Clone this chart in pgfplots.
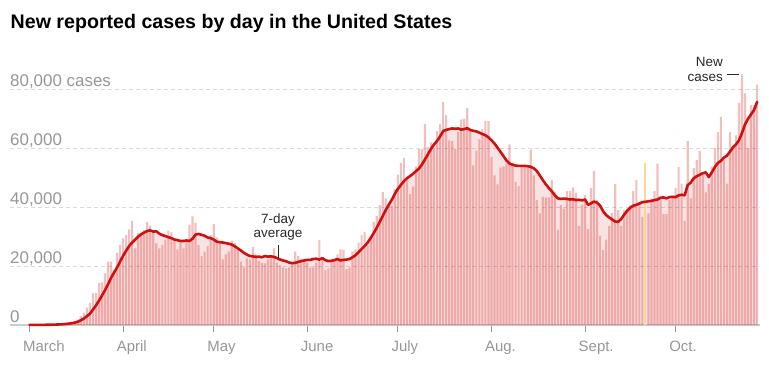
\documentclass[border=0pt]{standalone}
\usepackage{pgfplots}
\pgfplotsset{compat=1.18}
\usepackage{fontspec}
\setmainfont{Liberation Sans}
\definecolor{nytred}{RGB}{207,17,17}
\definecolor{linered}{RGB}{206,16,16}
\definecolor{ticklab}{RGB}{150,150,150}
\definecolor{gridc}{RGB}{218,218,218}
\definecolor{axisc}{RGB}{205,205,205}
\definecolor{yellowbar}{RGB}{253,213,150}
\definecolor{annot}{RGB}{40,40,40}
\begin{document}
\begin{tikzpicture}[x=1bp,y=1bp]
\useasboundingbox (0,0) rectangle (769,365);
\node[anchor=base west, inner sep=0pt, font=\fontsize{19.7}{22}\selectfont\bfseries, text=black] at (10.5,337) {New reported cases by day in the United States};
\begin{axis}[
  at={(10bp,40bp)}, anchor=south west,
  scale only axis, width=750bp, height=253.4bp,
  xmin=-6.46, xmax=241.96, ymin=0, ymax=86000,
  clip=false,
  axis x line*=bottom, axis y line*=left,
  x axis line style={draw=axisc, line width=1.5bp},
  y axis line style={draw=none},
  xtick={0,31,61,92,122,153,184,214},
  xticklabels={March,April,May,June,July,Aug.,Sept.,Oct.},
  ytick={0,20000,40000,60000,80000},
  yticklabels={0,{20,000},{40,000},{60,000},{80,000 cases}},
  scaled y ticks=false,
  tick align=outside, major tick length=7bp,
  xtick style={draw=ticklab, line width=0.9bp},
  ytick style={draw=none},
  minor tick num=0,
  xticklabel style={anchor=base west, inner sep=0pt, xshift=-6.5bp, yshift=-19.7bp, font=\fontsize{15}{15}\selectfont, text=ticklab},
  yticklabel style={anchor=base west, inner sep=0pt, xshift=7bp, yshift=3bp, font=\fontsize{17}{17}\selectfont, text=ticklab},
  ymajorgrids,
  grid style={draw=gridc, line width=0.9bp, dash pattern=on 4bp off 3bp},
  /pgf/number format/assume math mode=true,
]
% 7-day average area
\addplot[draw=none, fill=nytred, fill opacity=0.12] coordinates {
(0,20)(4,50)(8,110)(11,250)(13,450)(15,800)(16,1100)(17,1600)(18,2200)(19,3000)(20,3800)(21,5200)(22,6600)(23,8200)(24,10000)(25,11800)(26,13800)(27,16000)(28,17800)(29,19500)(30,21500)(31,23500)(32,25200)(33,26800)(34,28000)(35,29000)(36,30000)(37,30800)(38,31400)(39,31900)(40,32100)(41,31700)(42,31800)(43,31000)(44,30500)(45,30200)(46,29800)(47,29500)(48,29000)(49,28800)(50,28500)(51,28500)(52,28700)(53,28500)(54,29300)(55,30700)(56,30900)(57,30600)(58,30300)(59,29700)(60,29500)(61,29000)(62,28300)(63,28100)(64,28000)(65,27800)(66,27600)(67,27300)(68,26700)(69,26000)(70,25300)(71,24500)(72,23900)(73,23400)(74,23300)(75,23100)(76,23200)(77,23000)(78,23400)(79,23200)(80,23300)(81,23100)(82,22700)(83,22200)(84,21900)(85,21600)(86,21200)(87,21000)(88,21100)(89,21400)(90,21700)(91,21900)(92,22100)(93,22100)(94,22400)(95,22500)(96,22200)(97,22700)(98,22000)(99,21700)(100,21800)(101,22000)(102,22400)(103,21900)(104,22100)(105,22200)(106,22400)(107,23000)(108,23700)(109,24700)(110,25800)(111,26800)(112,28000)(113,29500)(114,31200)(115,33000)(116,35000)(117,37000)(118,39000)(119,40800)(120,42500)(121,44500)(122,46200)(123,47500)(124,48800)(125,49800)(126,50500)(127,51300)(128,52200)(129,53100)(130,54500)(131,56200)(132,58000)(133,59800)(134,61300)(135,62500)(136,64000)(137,65800)(138,66200)(139,66500)(140,66700)(141,66600)(142,66700)(143,66300)(144,66500)(145,66800)(146,66200)(147,65900)(148,65700)(149,65300)(150,64800)(151,64400)(152,63700)(153,62700)(154,61600)(155,60200)(156,58800)(157,57300)(158,55800)(159,54800)(160,54400)(161,54100)(162,54000)(163,54000)(164,54000)(165,53900)(166,53700)(167,53200)(168,52300)(169,50800)(170,49200)(171,47800)(172,46500)(173,45400)(174,44000)(175,43000)(176,42800)(177,42900)(178,42800)(179,42600)(180,42700)(181,42400)(182,42500)(183,42300)(184,42600)(185,40800)(186,41300)(187,41900)(188,41500)(189,40500)(190,38600)(191,37300)(192,36500)(193,35800)(194,35100)(195,35000)(196,36000)(197,37500)(198,38800)(199,39800)(200,40500)(201,40800)(202,41200)(203,41700)(204,41800)(205,42000)(206,42100)(207,42400)(208,42600)(209,43200)(210,43300)(211,43000)(212,43400)(213,43500)(214,43400)(215,44000)(216,44200)(217,44000)(218,47500)(219,48300)(220,49800)(221,50500)(222,51000)(223,51500)(224,51800)(225,50200)(226,51800)(227,53600)(228,55000)(229,55700)(230,56800)(231,57500)(232,58800)(233,60300)(234,61300)(235,62700)(236,65200)(237,68100)(238,70000)(239,71500)(240,73000)(241,75700)
} \closedcycle;
% daily new cases
\addplot[ybar, bar width=0.72, bar shift=0pt, draw=none, fill=nytred, fill opacity=0.27] coordinates {
(0,20)(1,30)(2,30)(3,50)(4,70)(5,80)(6,100)(7,120)(8,200)(9,300)(10,450)(11,500)(12,700)(13,750)(14,950)(15,1300)(16,1800)(17,3000)(18,4200)(19,5900)(20,7400)(21,10800)(22,10800)(23,14200)(24,14500)(25,17500)(26,21500)(27,21500)(28,18600)(29,24500)(30,27100)
(31,29400)(32,30500)(33,32400)(34,35400)(35,26000)(36,31300)(37,31000)(38,32200)(39,35000)(40,33700)(41,32200)(42,27700)(43,26000)(44,27100)(45,29000)(46,32000)(47,31500)(48,29000)(49,25700)(50,27900)(51,26000)(52,29000)(53,34100)(54,36900)(55,34700)(56,27100)(57,23400)(58,24900)(59,26800)(60,30500)
(61,34200)(62,29700)(63,28200)(64,22300)(65,24000)(66,24900)(67,28600)(68,27800)(69,25700)(70,21500)(71,19600)(72,22600)(73,22300)(74,26500)(75,24000)(76,21700)(77,21100)(78,20900)(79,22300)(80,23400)(81,26000)(82,21200)(83,20300)(84,19600)(85,19200)(86,19600)(87,21200)(88,24900)(89,23400)(90,22300)(91,21500)
(92,21200)(93,19600)(94,19600)(95,21200)(96,28800)(97,22000)(98,18600)(99,19200)(100,22000)(101,22500)(102,24000)(103,25700)(104,25500)(105,19000)(106,19500)(107,25000)(108,25700)(109,28000)(110,30500)(111,31600)(112,27000)(113,30200)(114,35000)(115,37000)(116,40700)(117,45200)(118,43000)(119,41500)(120,40500)(121,46000)
(122,51000)(123,55000)(124,56600)(125,49400)(126,44400)(127,47000)(128,53800)(129,59700)(130,59700)(131,68200)(132,60400)(133,62000)(134,60000)(135,65800)(136,68200)(137,75600)(138,71200)(139,62700)(140,62400)(141,59700)(142,65500)(143,69700)(144,70000)(145,73700)(146,66000)(147,54200)(148,59200)(149,63000)(150,66500)(151,69200)(152,69200)
(153,57000)(154,50800)(155,47700)(156,53400)(157,53800)(158,54800)(159,61300)(160,55000)(161,48600)(162,47100)(163,53800)(164,54200)(165,54200)(166,59500)(167,50800)(168,42400)(169,37900)(170,43500)(171,43300)(172,43300)(173,49200)(174,45200)(175,32400)(176,40700)(177,39500)(178,45400)(179,45400)(180,46700)(181,44900)(182,33600)(183,40700)
(184,44100)(185,32500)(186,46500)(187,52300)(188,42400)(189,30300)(190,25400)(191,29000)(192,33600)(193,38100)(194,47800)(195,39000)(196,33600)(197,39000)(198,39500)(199,40700)(200,45500)(201,49200)(202,41800)(203,36700)(205,37900)(206,42900)(207,45400)(208,54800)(209,43500)(210,37600)(211,37600)(212,42400)(213,44000)
(214,46500)(215,53700)(216,48000)(217,35300)(218,62400)(219,43000)(220,53300)(221,56000)(222,59000)(223,51000)(224,45000)(225,48000)(226,53700)(227,60000)(228,65500)(229,70600)(230,56000)(231,48000)(232,65500)(233,60000)(234,64400)(235,75400)(236,85000)(237,78600)(238,60000)(239,74600)(240,74600)(241,81600)
};
% highlighted day
\addplot[ybar, bar width=0.72, bar shift=0pt, draw=none, fill=yellowbar] coordinates {(204,55000)};
% 7-day average line
\addplot[linered, line width=2.6bp, line join=round, line cap=round, mark=none] coordinates {
(0,20)(4,50)(8,110)(11,250)(13,450)(15,800)(16,1100)(17,1600)(18,2200)(19,3000)(20,3800)(21,5200)(22,6600)(23,8200)(24,10000)(25,11800)(26,13800)(27,16000)(28,17800)(29,19500)(30,21500)(31,23500)(32,25200)(33,26800)(34,28000)(35,29000)(36,30000)(37,30800)(38,31400)(39,31900)(40,32100)(41,31700)(42,31800)(43,31000)(44,30500)(45,30200)(46,29800)(47,29500)(48,29000)(49,28800)(50,28500)(51,28500)(52,28700)(53,28500)(54,29300)(55,30700)(56,30900)(57,30600)(58,30300)(59,29700)(60,29500)(61,29000)(62,28300)(63,28100)(64,28000)(65,27800)(66,27600)(67,27300)(68,26700)(69,26000)(70,25300)(71,24500)(72,23900)(73,23400)(74,23300)(75,23100)(76,23200)(77,23000)(78,23400)(79,23200)(80,23300)(81,23100)(82,22700)(83,22200)(84,21900)(85,21600)(86,21200)(87,21000)(88,21100)(89,21400)(90,21700)(91,21900)(92,22100)(93,22100)(94,22400)(95,22500)(96,22200)(97,22700)(98,22000)(99,21700)(100,21800)(101,22000)(102,22400)(103,21900)(104,22100)(105,22200)(106,22400)(107,23000)(108,23700)(109,24700)(110,25800)(111,26800)(112,28000)(113,29500)(114,31200)(115,33000)(116,35000)(117,37000)(118,39000)(119,40800)(120,42500)(121,44500)(122,46200)(123,47500)(124,48800)(125,49800)(126,50500)(127,51300)(128,52200)(129,53100)(130,54500)(131,56200)(132,58000)(133,59800)(134,61300)(135,62500)(136,64000)(137,65800)(138,66200)(139,66500)(140,66700)(141,66600)(142,66700)(143,66300)(144,66500)(145,66800)(146,66200)(147,65900)(148,65700)(149,65300)(150,64800)(151,64400)(152,63700)(153,62700)(154,61600)(155,60200)(156,58800)(157,57300)(158,55800)(159,54800)(160,54400)(161,54100)(162,54000)(163,54000)(164,54000)(165,53900)(166,53700)(167,53200)(168,52300)(169,50800)(170,49200)(171,47800)(172,46500)(173,45400)(174,44000)(175,43000)(176,42800)(177,42900)(178,42800)(179,42600)(180,42700)(181,42400)(182,42500)(183,42300)(184,42600)(185,40800)(186,41300)(187,41900)(188,41500)(189,40500)(190,38600)(191,37300)(192,36500)(193,35800)(194,35100)(195,35000)(196,36000)(197,37500)(198,38800)(199,39800)(200,40500)(201,40800)(202,41200)(203,41700)(204,41800)(205,42000)(206,42100)(207,42400)(208,42600)(209,43200)(210,43300)(211,43000)(212,43400)(213,43500)(214,43400)(215,44000)(216,44200)(217,44000)(218,47500)(219,48300)(220,49800)(221,50500)(222,51000)(223,51500)(224,51800)(225,50200)(226,51800)(227,53600)(228,55000)(229,55700)(230,56800)(231,57500)(232,58800)(233,60300)(234,61300)(235,62700)(236,65200)(237,68100)(238,70000)(239,71500)(240,73000)(241,75700)
};
% annotations
\node[anchor=base, inner sep=0pt, font=\fontsize{13.5}{14}\selectfont, text=annot] at (axis cs:82.3,34280) {7-day};
\node[anchor=base, inner sep=0pt, font=\fontsize{13.5}{14}\selectfont, text=annot] at (axis cs:82.3,29530) {average};
\draw[annot, line width=0.8bp] (axis cs:82.3,27200) -- (axis cs:82.3,22900);
\node[anchor=base east, inner sep=0pt, font=\fontsize{13.5}{14}\selectfont, text=annot] at (axis cs:229.7,87600) {New};
\node[anchor=base east, inner sep=0pt, font=\fontsize{13.5}{14}\selectfont, text=annot] at (axis cs:229.7,82600) {cases};
\draw[annot, line width=0.8bp] (axis cs:230.9,85100) -- (axis cs:234.9,85100);
\end{axis}
\end{tikzpicture}
\end{document}
